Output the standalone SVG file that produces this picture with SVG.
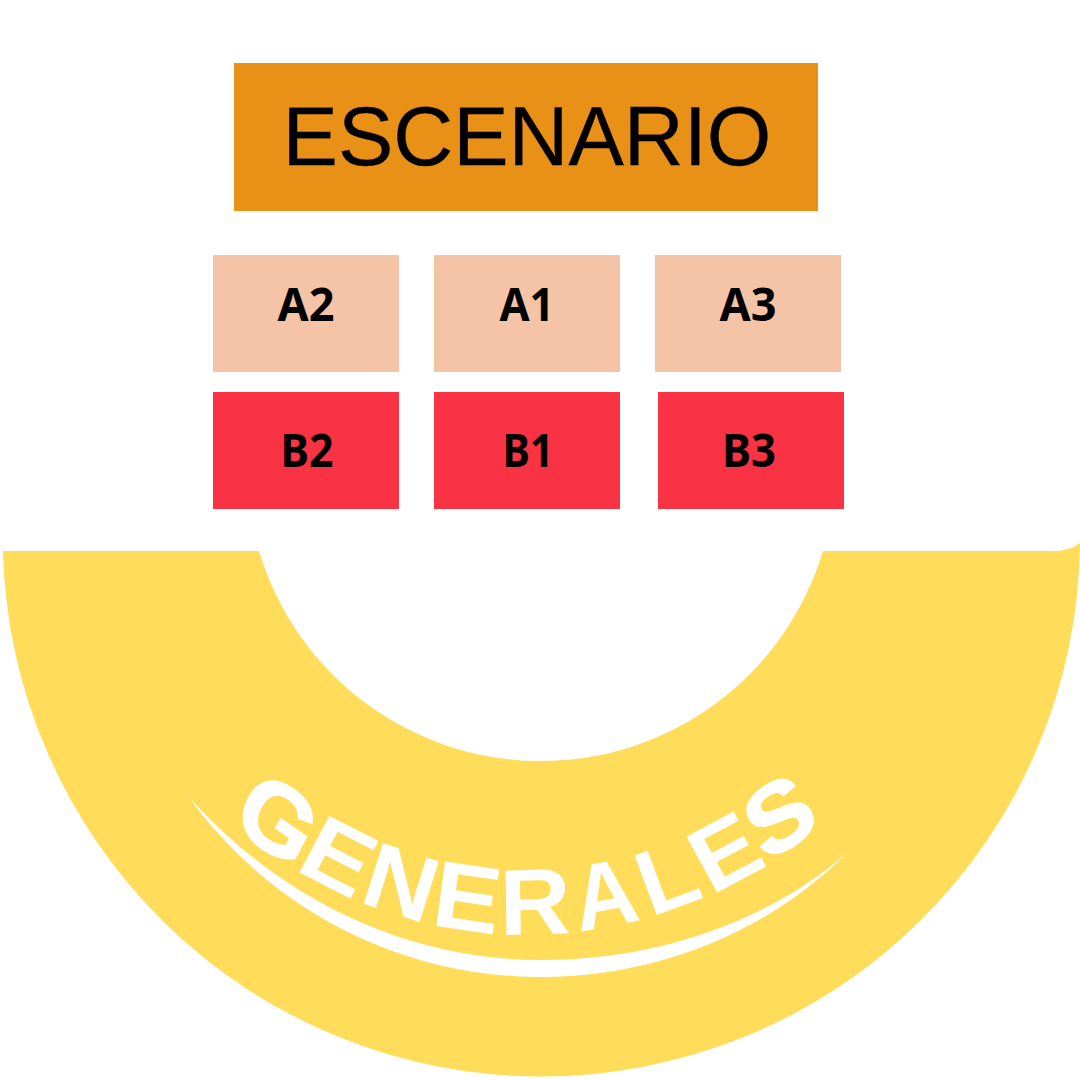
<svg xmlns="http://www.w3.org/2000/svg" width="1080" height="1080" viewBox="0 0 1080 1080">
<style>
.a{fill:#F5C4A6}.b{fill:#F93343}
.s{font-family:"Noto Sans","Open Sans",sans-serif;font-weight:700;font-size:47px;fill:#000;text-anchor:middle}
.g{font-family:"Liberation Sans",Arial,sans-serif;font-weight:700;font-size:100px;fill:#fff}
.h{stroke:#fff;stroke-width:2}
</style>
<rect width="1080" height="1080" fill="#fff"/>
<g id="generales">
<path fill="#FFDC5A" d="M3 551H259A294.3 294.3 0 0 0 823 551H1055Q1069 551 1080 543A538.5 538.5 0 0 1 541.5 1076.5A538.5 538.5 0 0 1 3 551Z"/>
<path fill="#fff" d="M188 796C290 910 420 960 541 960C660 960 770 920 847 853C770 930 660 977 541 977C400 977 270 910 188 796Z"/>
<text class="g h" transform="matrix(.84 .59 -.44 .84 230 825)">G</text>
<text class="g" transform="matrix(.907 .463 -.433 .824 293.4 869.6)">E</text>
<text class="g" transform="matrix(.948 .31 -.279 .88 357.4 901.8)">N</text>
<text class="g" transform="matrix(1 .148 -.126 .936 429.7 924.9)">E</text>
<text class="g" transform="matrix(.984 -.03 .014 .936 500.1 935.2)">R</text>
<text class="g" transform="matrix(.875 -.167 .168 .915 579 932)">A</text>
<text class="g" transform="matrix(.9 -.333 .321 .866 650.7 917.3)">L</text>
<text class="g" transform="matrix(.87 -.463 .447 .81 711.6 895.4)">E</text>
<text class="g h" transform="matrix(.84 -.56 .44 .82 766.5 863)">S</text>
</g>
<g id="escenario">
<rect x="234" y="63" width="584" height="148" fill="#E99116"/>
<text x="527" y="165" font-family="'Liberation Sans',Arial,sans-serif" font-size="83" text-anchor="middle" fill="#000" stroke="#000" stroke-width=".3">ESCENARIO</text>
</g>
<g id="a2"><rect class="a" x="213" y="255" width="186" height="117"/><text class="s" x="306" y="321" textLength="57" lengthAdjust="spacingAndGlyphs">A2</text></g>
<g id="a1"><rect class="a" x="434" y="255" width="186" height="117"/><text class="s" x="527" y="321" textLength="55" lengthAdjust="spacingAndGlyphs">A1</text></g>
<g id="a3"><rect class="a" x="655" y="255" width="186" height="117"/><text class="s" x="748" y="321" textLength="57" lengthAdjust="spacingAndGlyphs">A3</text></g>
<g id="b2"><rect class="b" x="213" y="392" width="186" height="117"/><text class="s" x="307" y="467" textLength="53" lengthAdjust="spacingAndGlyphs">B2</text></g>
<g id="b1"><rect class="b" x="434" y="392" width="186" height="117"/><text class="s" x="528" y="467" textLength="51" lengthAdjust="spacingAndGlyphs">B1</text></g>
<g id="b3"><rect class="b" x="658" y="392" width="186" height="117"/><text class="s" x="749" y="467" textLength="54" lengthAdjust="spacingAndGlyphs">B3</text></g>
<g id="connectors"/>
</svg>
